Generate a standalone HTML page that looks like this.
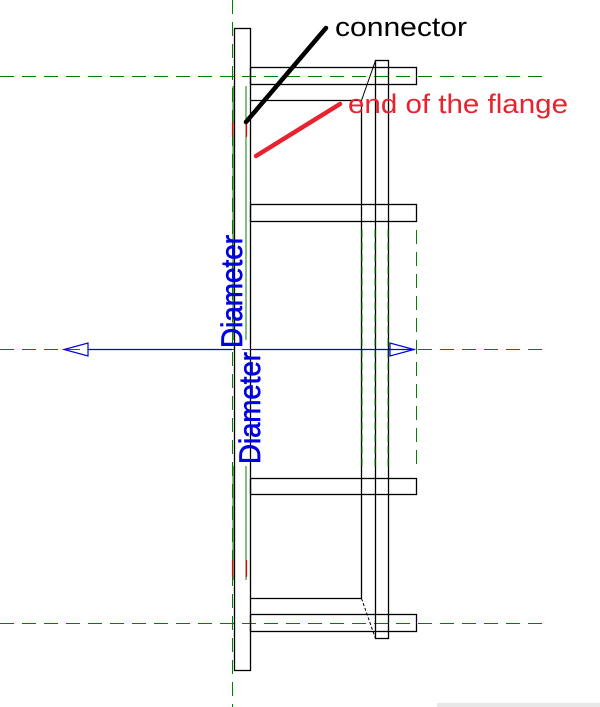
<!DOCTYPE html>
<html><head><style>html,body{margin:0;padding:0;background:#fff;}svg{display:block}</style></head>
<body>
<svg width="600" height="707" viewBox="0 0 600 707" xmlns="http://www.w3.org/2000/svg" font-family="Liberation Sans, sans-serif">
<rect width="600" height="707" fill="#fff"/>
<g stroke="#008000" stroke-width="1" stroke-dasharray="14,8" fill="none">
<line x1="0" y1="76.5" x2="542" y2="76.5"/>
<line x1="0" y1="623.5" x2="542" y2="623.5"/>
<line x1="0" y1="349.5" x2="542" y2="349.5"/>
<line x1="232.5" y1="0" x2="232.5" y2="707"/>
<line x1="416.5" y1="230" x2="416.5" y2="470"/>
</g>
<g stroke="#000" stroke-width="1.3" fill="none">
<rect x="234.5" y="28.5" width="16" height="642"/>
<rect x="250.5" y="67.5" width="166" height="17"/>
<rect x="250.5" y="204.5" width="166" height="17"/>
<rect x="250.5" y="478.5" width="166" height="16"/>
<rect x="250.5" y="614.5" width="166" height="17"/>
<line x1="250" y1="100.5" x2="361.5" y2="100.5"/>
<line x1="250" y1="598.5" x2="361.5" y2="598.5"/>
<line x1="361.5" y1="100.5" x2="361.5" y2="598.5"/>
<line x1="361.5" y1="100.5" x2="375.5" y2="60.5" stroke-width="1"/>
<line x1="361.5" y1="598.5" x2="375.5" y2="638.5" stroke-width="1" stroke-dasharray="3,2"/>
<rect x="375.5" y="60.5" width="13" height="578"/>
</g>
<g stroke="#008000" stroke-width="1">
<line x1="233" y1="86" x2="233" y2="340"/>
<line x1="246" y1="86" x2="246" y2="340"/>
<line x1="233" y1="466" x2="233" y2="580"/>
<line x1="246" y1="466" x2="246" y2="580"/>
<line x1="362" y1="230" x2="362" y2="470" stroke-dasharray="8,4"/>
<line x1="375" y1="230" x2="375" y2="470" stroke-dasharray="8,4"/>
<line x1="388" y1="230" x2="388" y2="470" stroke-dasharray="8,4"/>
</g>
<g stroke="#e00" stroke-width="1.2">
<line x1="232.5" y1="122" x2="232.5" y2="137"/>
<line x1="246.5" y1="122" x2="246.5" y2="137"/>
<line x1="232.5" y1="560" x2="232.5" y2="577"/>
<line x1="246.5" y1="560" x2="246.5" y2="577"/>
</g>
<g stroke="#0000e0" stroke-width="1.2" fill="none">
<line x1="88" y1="349.5" x2="232" y2="349.5"/>
<line x1="250" y1="349.5" x2="415" y2="349.5"/>
<polygon points="88,343 88,356 64,349.5"/>
<polygon points="390,343 390,356 414,349.5"/>
</g>
<text transform="translate(242,348) rotate(-90)" font-size="30" fill="#0000e0" stroke="#0000e0" stroke-width="0.7" textLength="113" lengthAdjust="spacingAndGlyphs">Diameter</text>
<text transform="translate(260,464) rotate(-90)" font-size="30" fill="#0000e0" stroke="#0000e0" stroke-width="0.7" textLength="112" lengthAdjust="spacingAndGlyphs">Diameter</text>
<line x1="246" y1="122" x2="326" y2="28" stroke="#000" stroke-width="4.5" stroke-linecap="round"/>
<line x1="256" y1="156" x2="340" y2="104" stroke="#e8232f" stroke-width="4.5" stroke-linecap="round"/>
<text x="335" y="36" font-size="27" fill="#000" textLength="132" lengthAdjust="spacingAndGlyphs">connector</text>
<text x="348" y="113" font-size="27" fill="#e8232f" textLength="220" lengthAdjust="spacingAndGlyphs">end of the flange</text>
<rect x="437" y="703" width="163" height="4" fill="#e8e8e8"/>
</svg>
</body></html>
